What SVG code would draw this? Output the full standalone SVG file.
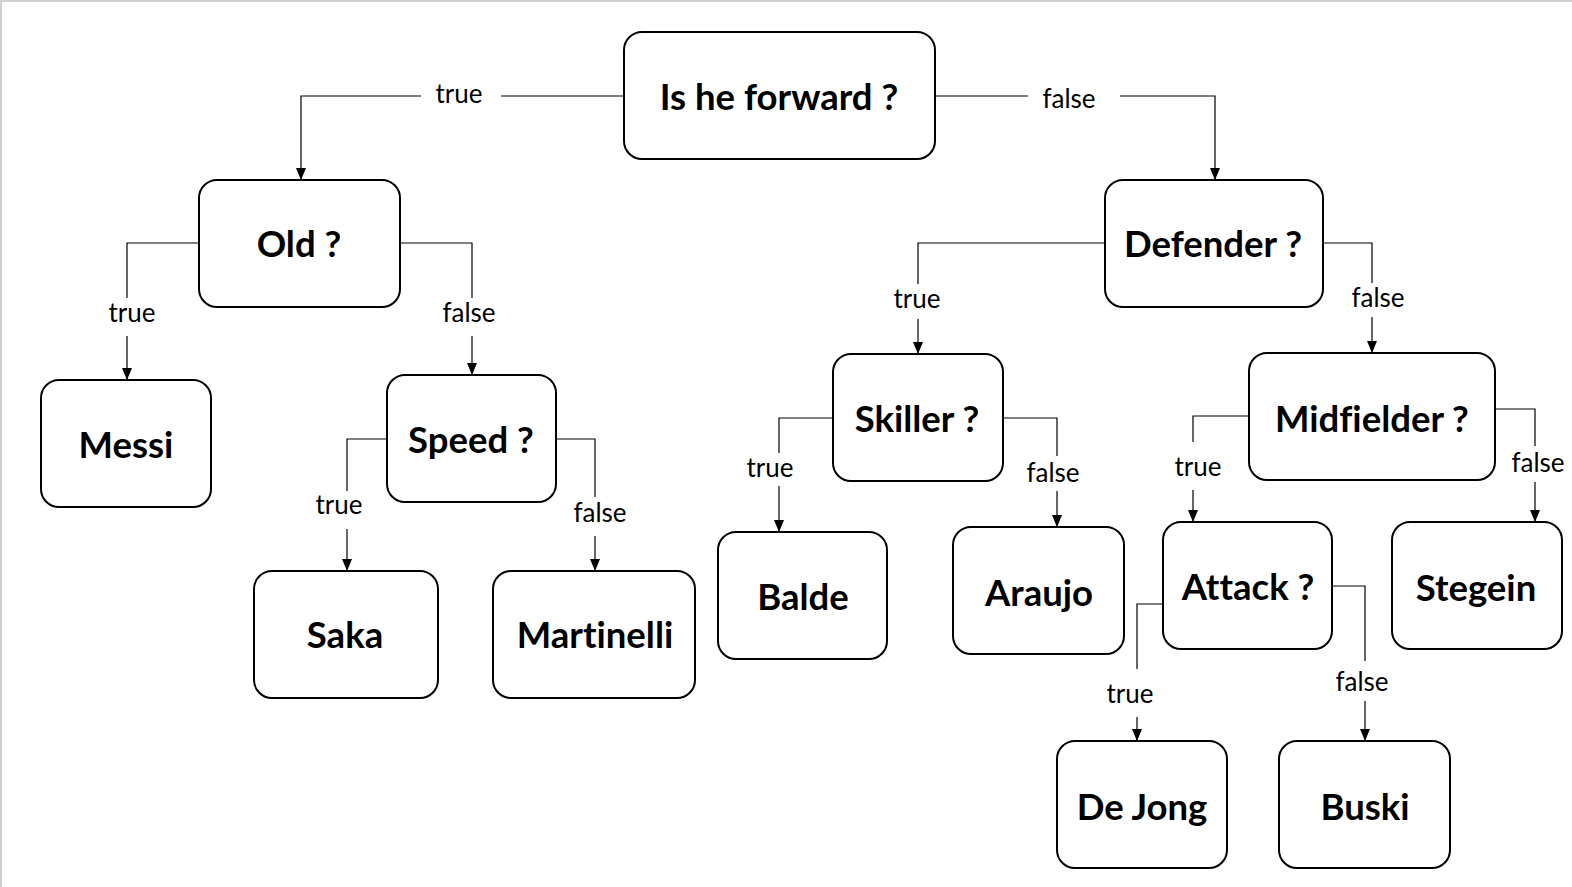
<svg xmlns="http://www.w3.org/2000/svg" width="1572" height="887" viewBox="0 0 1572 887">
<style>
.box{fill:#fff;stroke:#000;stroke-width:2}
.t{font-family:Lato,"Liberation Sans",sans-serif;font-weight:bold;font-size:36.5px;text-anchor:middle;fill:#000;font-variant-ligatures:none}
.l{font-family:Lato,"Liberation Sans",sans-serif;font-size:26px;text-anchor:middle;fill:#000}
.c{fill:none;stroke:#000;stroke-width:1.2}
</style>
<defs>
<marker id="arr" markerUnits="userSpaceOnUse" markerWidth="12" markerHeight="10" refX="11" refY="5" orient="auto" viewBox="0 0 12 10">
<path d="M0,0 L12,5 L0,10 Z" fill="#000"/>
</marker>
</defs>
<rect x="0" y="0" width="1572" height="887" fill="#fff"/>
<path d="M1,887 V1 H1572" fill="none" stroke="#d0d0d0" stroke-width="2"/>
<g id="connectors">
<path class="c" d="M624,96 H501"/><path class="c" d="M421,96 H301 V179" marker-end="url(#arr)"/>
<text class="l" x="459" y="103">true</text>
<path class="c" d="M936,96 H1028"/><path class="c" d="M1120,96 H1215 V179" marker-end="url(#arr)"/>
<text class="l" x="1069" y="108">false</text>
<path class="c" d="M199,243 H127 V298"/><path class="c" d="M127,336 V379" marker-end="url(#arr)"/>
<text class="l" x="132" y="322">true</text>
<path class="c" d="M400,243 H472 V298"/><path class="c" d="M472,336 V374" marker-end="url(#arr)"/>
<text class="l" x="469" y="322">false</text>
<path class="c" d="M387,439 H347 V491"/><path class="c" d="M347,529 V570" marker-end="url(#arr)"/>
<text class="l" x="339" y="514">true</text>
<path class="c" d="M556,439 H595 V497"/><path class="c" d="M595,536 V570" marker-end="url(#arr)"/>
<text class="l" x="600" y="522">false</text>
<path class="c" d="M1105,243 H918 V284"/><path class="c" d="M918,319 V353" marker-end="url(#arr)"/>
<text class="l" x="917" y="308">true</text>
<path class="c" d="M1323,243 H1372 V283"/><path class="c" d="M1372,317 V352" marker-end="url(#arr)"/>
<text class="l" x="1378" y="307">false</text>
<path class="c" d="M833,418 H779 V453"/><path class="c" d="M779,486 V531" marker-end="url(#arr)"/>
<text class="l" x="770" y="477">true</text>
<path class="c" d="M1003,418 H1057 V456"/><path class="c" d="M1057,491 V526" marker-end="url(#arr)"/>
<text class="l" x="1053" y="482">false</text>
<path class="c" d="M1249,416 H1193 V442"/><path class="c" d="M1193,490 V521" marker-end="url(#arr)"/>
<text class="l" x="1198" y="476">true</text>
<path class="c" d="M1495,409 H1535 V446"/><path class="c" d="M1535,482 V521" marker-end="url(#arr)"/>
<text class="l" x="1538" y="472">false</text>
<path class="c" d="M1163,604 H1137 V669"/><path class="c" d="M1137,717 V740" marker-end="url(#arr)"/>
<text class="l" x="1130" y="703">true</text>
<path class="c" d="M1332,586 H1365 V661"/><path class="c" d="M1365,701 V740" marker-end="url(#arr)"/>
<text class="l" x="1362" y="691">false</text>
</g>
<g id="n-forward"><rect class="box" x="624" y="32" width="311" height="127" rx="18"/><text class="t" x="779" y="110">Is he forward ?</text></g>
<g id="n-old"><rect class="box" x="199" y="180" width="201" height="127" rx="18"/><text class="t" x="299" y="257">Old ?</text></g>
<g id="n-defender"><rect class="box" x="1105" y="180" width="218" height="127" rx="18"/><text class="t" x="1213" y="257">Defender ?</text></g>
<g id="n-messi"><rect class="box" x="41" y="380" width="170" height="127" rx="18"/><text class="t" x="126" y="458">Messi</text></g>
<g id="n-speed"><rect class="box" x="387" y="375" width="169" height="127" rx="18"/><text class="t" x="471" y="453">Speed ?</text></g>
<g id="n-skiller"><rect class="box" x="833" y="354" width="170" height="127" rx="18"/><text class="t" x="917" y="432">Skiller ?</text></g>
<g id="n-midfielder"><rect class="box" x="1249" y="353" width="246" height="127" rx="18"/><text class="t" x="1372" y="432">Midfielder ?</text></g>
<g id="n-saka"><rect class="box" x="254" y="571" width="184" height="127" rx="18"/><text class="t" x="345" y="648">Saka</text></g>
<g id="n-martinelli"><rect class="box" x="493" y="571" width="202" height="127" rx="18"/><text class="t" x="595" y="648">Martinelli</text></g>
<g id="n-balde"><rect class="box" x="718" y="532" width="169" height="127" rx="18"/><text class="t" x="803" y="610">Balde</text></g>
<g id="n-araujo"><rect class="box" x="953" y="527" width="171" height="127" rx="18"/><text class="t" x="1039" y="606">Araujo</text></g>
<g id="n-attack"><rect class="box" x="1163" y="522" width="169" height="127" rx="18"/><text class="t" x="1248" y="600">Attack ?</text></g>
<g id="n-stegein"><rect class="box" x="1392" y="522" width="170" height="127" rx="18"/><text class="t" x="1476" y="601">Stegein</text></g>
<g id="n-dejong"><rect class="box" x="1057" y="741" width="170" height="127" rx="18"/><text class="t" x="1142" y="820">De Jong</text></g>
<g id="n-buski"><rect class="box" x="1279" y="741" width="171" height="127" rx="18"/><text class="t" x="1365" y="820">Buski</text></g>
</svg>
